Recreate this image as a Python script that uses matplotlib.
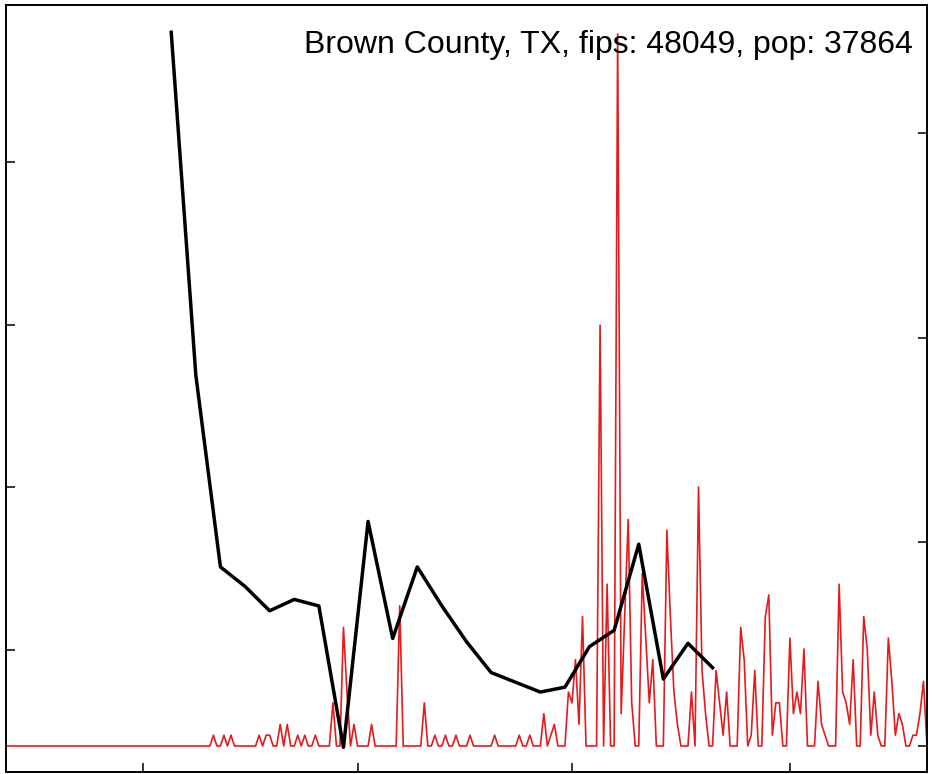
import pandas as pd
import matplotlib.pyplot as plt

plt.rcParams['font.family'] = ['Liberation Sans', 'DejaVu Sans']

county = "Brown County, TX"
fips = 48049
pop = 37864

# daily new cases, starting 2020-01-22
start_date = "2020-01-22"
daily_cases = [
    0, 0, 0, 0, 0, 0, 0, 0, 0, 0, 0, 0, 0, 0, 0, 0, 0, 0, 0, 0,
    0, 0, 0, 0, 0, 0, 0, 0, 0, 0, 0, 0, 0, 0, 0, 0, 0, 0, 0, 0,
    0, 0, 0, 0, 0, 0, 0, 0, 0, 0, 0, 0, 0, 0, 0, 0, 0, 0, 0, 1,
    0, 0, 1, 0, 1, 0, 0, 0, 0, 0, 0, 0, 1, 0, 1, 1, 0, 0, 2, 0,
    2, 0, 0, 1, 0, 1, 0, 0, 1, 0, 0, 0, 0, 4, 0, 0, 11, 5, 0, 2,
    0, 0, 0, 0, 2, 0, 0, 0, 0, 0, 0, 0, 13, 0, 0, 0, 0, 0, 0, 4,
    0, 0, 1, 0, 0, 1, 0, 0, 1, 0, 0, 0, 1, 0, 0, 0, 0, 0, 0, 1,
    0, 0, 0, 0, 0, 0, 1, 0, 0, 1, 0, 0, 0, 3, 0, 1, 2, 0, 0, 0,
    5, 4, 8, 2, 12, 0, 0, 0, 0, 39, 0, 15, 0, 0, 66, 3, 12, 21, 4, 0,
    0, 16, 10, 4, 8, 0, 0, 0, 20, 12, 5, 2, 0, 0, 0, 5, 0, 24, 7, 3,
    0, 0, 7, 4, 1, 5, 0, 0, 0, 11, 8, 0, 1, 7, 0, 0, 12, 14, 1, 4,
    4, 0, 0, 10, 3, 5, 3, 9, 0, 0, 0, 6, 2, 1, 0, 0, 0, 15, 5, 4,
    2, 8, 0, 0, 12, 9, 1, 5, 1, 0, 0, 10, 6, 1, 3, 2, 0, 0, 1, 1,
    3, 6, 0,
]

# weekly series (left axis, arbitrary units), starting 2020-03-09
weekly_start = "2020-03-09"
weekly_values = [4.80, 2.69, 1.51, 1.39, 1.24, 1.31, 1.27, 0.40, 1.79, 1.07,
                 1.51, 1.27, 1.05, 0.86, 0.80, 0.74, 0.77, 1.02, 1.12, 1.65,
                 0.82, 1.04, 0.89]

month_ticks = ["2020-03-01", "2020-05-01", "2020-07-01", "2020-09-01"]

dates = pd.date_range(start_date, periods=len(daily_cases), freq="D")
per100k = [c * 1e5 / pop for c in daily_cases]
wdates = pd.date_range(weekly_start, periods=len(weekly_values), freq="7D")

fig = plt.figure(figsize=(9.33, 7.74), dpi=100)
ax = fig.add_axes([6 / 933, 2 / 774, 921 / 933, 767 / 774])
ax.plot(dates, per100k, color="#e41a1c", lw=1.2)
ax.set_xlim(dates[0], dates[-1])
ax.set_ylim(-6.37, 181.4)
ax.set_yticks([0, 50, 100, 150])
ax.set_xticks(pd.to_datetime(month_ticks))

ax2 = ax.twinx()
ax2.plot(wdates, weekly_values, color="black", lw=2.5)
ax2.set_ylim(0.248, 4.968)
ax2.set_yticks([1, 2, 3, 4])
ax2.set_xlim(dates[0], dates[-1])
ax2.yaxis.tick_left()
ax.yaxis.tick_right()

for a in (ax, ax2):
    a.tick_params(direction="in", length=6.5, width=1.1,
                  labelleft=False, labelright=False, labelbottom=False)
    for s in a.spines.values():
        s.set_linewidth(1.2)

ax2.text(0.985, 0.948, f"{county}, fips: {fips}, pop: {pop}",
         transform=ax2.transAxes, ha="right", va="center", fontsize=23)

fig.savefig("out.png", dpi=100)
